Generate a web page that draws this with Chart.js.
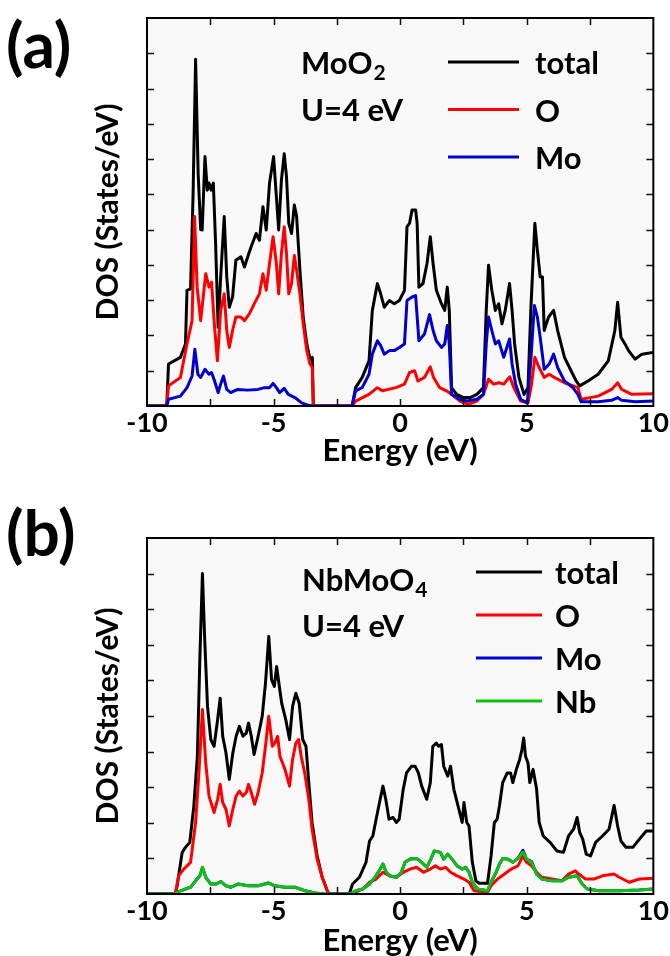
<!DOCTYPE html>
<html>
<head>
<meta charset="utf-8">
<script src="https://cdn.jsdelivr.net/npm/chart.js@4.4.1/dist/chart.umd.min.js"></script>
<style>
  html, body { margin: 0; padding: 0; background: #fff; }
  #wrap { position: relative; width: 670px; height: 956px; }
  canvas { position: absolute; left: 0; }
  #cA { top: 0; }
  #cB { top: 480px; }
</style>
</head>
<body>
<div id="wrap">
  <canvas id="cA" width="670" height="480"></canvas>
  <canvas id="cB" width="670" height="476"></canvas>
</div>
<script>
// energy range and ticks
const xMin = -10, xMax = 10;
const xStep = 2.5;

// panel (a): MoO2, [energy eV, DOS]
const aTotal = [[-10,0],[-9.22,0],[-9.15,1.19],[-8.68,1.38],[-8.48,1.76],[-8.42,3.28],[-8.28,3.32],[-8.18,6.0],[-8.08,9.83],[-7.98,6.6],[-7.88,5.0],[-7.82,4.99],[-7.71,7.07],[-7.62,6.12],[-7.55,6.32],[-7.47,6.12],[-7.38,6.32],[-7.29,4.6],[-7.19,2.23],[-7.09,3.66],[-6.95,5.37],[-6.85,3.66],[-6.75,2.8],[-6.62,3.09],[-6.49,4.13],[-6.29,4.23],[-6.15,3.94],[-6.02,4.23],[-5.89,4.51],[-5.69,4.89],[-5.56,4.7],[-5.42,5.65],[-5.29,4.99],[-5.16,6.32],[-5.0,7.07],[-4.89,5.94],[-4.8,4.99],[-4.69,6.41],[-4.58,7.15],[-4.49,6.5],[-4.4,5.18],[-4.29,4.89],[-4.18,5.7],[-4.09,5.37],[-3.96,3.85],[-3.83,2.52],[-3.69,1.76],[-3.56,1.33],[-3.47,1.38],[-3.43,0],[-1.9,0],[-1.76,0.52],[-1.5,0.81],[-1.23,1.28],[-1.1,2.71],[-0.9,3.47],[-0.77,3.18],[-0.63,2.8],[-0.43,2.99],[-0.23,2.9],[-0.03,2.99],[0.17,3.28],[0.27,5.08],[0.37,5.18],[0.47,5.56],[0.61,5.56],[0.67,5.18],[0.74,3.37],[0.9,3.47],[1.06,4.04],[1.19,4.8],[1.3,4.04],[1.43,3.28],[1.63,2.9],[1.76,2.71],[1.86,3.37],[1.94,2.71],[2.03,0.52],[2.23,0.33],[2.5,0.24],[2.76,0.24],[3.03,0.33],[3.29,0.52],[3.4,2.71],[3.49,3.99],[3.62,3.28],[3.76,2.71],[3.89,2.9],[4.02,2.33],[4.15,2.71],[4.32,3.47],[4.42,2.71],[4.52,1.76],[4.69,0.81],[4.89,0.33],[5.05,0.52],[5.16,2.71],[5.32,5.18],[5.42,4.42],[5.53,3.66],[5.62,3.66],[5.69,2.14],[5.86,2.52],[6.06,2.71],[6.22,2.14],[6.49,1.38],[6.75,1.0],[6.95,0.71],[7.09,0.57],[7.42,0.71],[7.82,0.9],[8.22,1.28],[8.48,2.14],[8.59,2.94],[8.72,1.95],[8.88,1.76],[9.02,1.57],[9.28,1.33],[9.55,1.47],[10,1.52]];
const aO = [[-10,0],[-9.22,0],[-9.15,0.57],[-8.68,0.81],[-8.42,1.76],[-8.22,2.42],[-8.12,5.37],[-8.02,3.37],[-7.88,2.42],[-7.68,3.75],[-7.55,3.37],[-7.45,3.51],[-7.33,2.23],[-7.22,1.28],[-7.09,2.71],[-6.95,3.18],[-6.85,2.14],[-6.75,1.66],[-6.62,2.14],[-6.49,2.52],[-6.29,2.52],[-6.15,2.42],[-5.96,2.61],[-5.76,2.9],[-5.56,3.18],[-5.42,3.75],[-5.29,3.28],[-5.16,4.04],[-5.02,4.8],[-4.89,4.04],[-4.8,3.18],[-4.69,4.32],[-4.58,5.08],[-4.49,4.32],[-4.4,3.18],[-4.29,3.47],[-4.18,4.27],[-4.09,3.85],[-3.96,3.18],[-3.83,2.33],[-3.69,1.57],[-3.56,1.19],[-3.47,1.09],[-3.43,0],[-1.9,0],[-1.76,0.14],[-1.23,0.33],[-0.9,0.52],[-0.7,0.43],[-0.17,0.52],[0.17,0.62],[0.37,0.95],[0.57,1.0],[0.7,0.71],[0.96,0.81],[1.19,1.11],[1.32,0.81],[1.56,0.52],[1.83,0.43],[2.03,0.33],[2.36,0.14],[2.69,0.05],[3.03,0.14],[3.29,0.33],[3.49,0.76],[3.69,0.62],[3.89,0.66],[4.09,0.62],[4.33,0.83],[4.49,0.52],[4.76,0.14],[5.05,0.09],[5.19,0.62],[5.32,1.38],[5.49,1.09],[5.69,0.81],[5.89,0.9],[6.09,0.81],[6.49,0.66],[7.02,0.52],[7.15,0.19],[7.82,0.28],[8.35,0.47],[8.59,0.66],[8.75,0.47],[9.15,0.33],[10,0.35]];
const aMo = [[-10,0],[-9.22,0],[-9.15,0.19],[-8.68,0.28],[-8.42,0.52],[-8.22,0.85],[-8.11,1.61],[-7.99,0.9],[-7.88,0.81],[-7.71,1.04],[-7.55,0.9],[-7.45,0.95],[-7.33,0.71],[-7.19,0.38],[-7.09,0.62],[-6.98,0.85],[-6.85,0.47],[-6.69,0.38],[-6.42,0.47],[-6.02,0.45],[-5.62,0.47],[-5.36,0.52],[-5.16,0.52],[-5.02,0.64],[-4.89,0.52],[-4.76,0.38],[-4.58,0.5],[-4.42,0.33],[-4.16,0.24],[-3.89,0.09],[-3.63,0.02],[-3.43,0],[-1.9,0],[-1.76,0.43],[-1.5,0.52],[-1.23,0.9],[-1.1,1.47],[-0.9,1.85],[-0.77,1.71],[-0.63,1.47],[-0.43,1.57],[-0.23,1.57],[-0.03,1.66],[0.17,1.76],[0.27,2.99],[0.47,3.09],[0.61,3.13],[0.74,1.85],[0.96,2.04],[1.16,2.59],[1.3,2.14],[1.43,1.85],[1.63,1.66],[1.76,1.76],[1.86,2.28],[1.94,1.76],[2.03,0.33],[2.36,0.19],[2.63,0.14],[3.03,0.19],[3.29,0.33],[3.4,1.76],[3.49,2.52],[3.62,2.14],[3.76,1.76],[3.89,1.85],[4.09,1.38],[4.32,1.9],[4.42,1.19],[4.56,0.62],[4.76,0.19],[5.02,0.09],[5.16,1.28],[5.3,2.85],[5.42,2.52],[5.53,1.95],[5.69,1.04],[5.89,1.19],[6.06,1.47],[6.22,1.09],[6.49,0.71],[6.82,0.52],[7.02,0.33],[7.15,0.12],[7.82,0.12],[8.35,0.16],[8.59,0.24],[8.75,0.16],[9.28,0.12],[10,0.14]];

// panel (b): NbMoO4
const bTotal = [[-10,0],[-8.88,0],[-8.81,0.23],[-8.61,1.17],[-8.48,1.31],[-8.31,1.45],[-8.15,2.47],[-8.01,3.87],[-7.91,6.67],[-7.81,9.0],[-7.72,7.14],[-7.61,5.27],[-7.48,4.34],[-7.35,4.15],[-7.21,4.9],[-7.11,5.5],[-7.01,4.43],[-6.88,3.96],[-6.75,3.22],[-6.61,3.96],[-6.48,4.43],[-6.35,4.71],[-6.21,4.43],[-6.08,4.52],[-5.99,4.8],[-5.88,4.43],[-5.77,3.92],[-5.61,4.43],[-5.45,4.99],[-5.32,5.92],[-5.19,7.23],[-5.08,6.02],[-4.97,5.83],[-4.88,6.39],[-4.79,5.92],[-4.68,5.36],[-4.52,4.9],[-4.37,4.34],[-4.25,5.27],[-4.12,5.64],[-3.99,5.36],[-3.85,4.34],[-3.72,4.15],[-3.61,3.13],[-3.48,2.01],[-3.28,1.07],[-3.08,0.47],[-2.88,0.09],[-2.81,0],[-2.01,0],[-1.88,0.28],[-1.61,0.47],[-1.35,0.89],[-1.21,1.49],[-1.08,1.63],[-0.95,2.1],[-0.79,2.66],[-0.68,3.03],[-0.57,2.66],[-0.44,2.1],[-0.28,2.15],[-0.15,2.01],[-0.04,2.1],[0.12,2.94],[0.25,3.4],[0.45,3.59],[0.59,3.59],[0.72,3.4],[0.85,3.03],[1.05,2.66],[1.19,3.13],[1.29,4.15],[1.43,4.24],[1.52,4.15],[1.63,4.2],[1.72,3.59],[1.88,3.31],[1.99,3.59],[2.12,2.94],[2.32,2.38],[2.45,2.01],[2.52,2.57],[2.63,2.01],[2.72,1.91],[2.85,0.89],[2.99,0.37],[3.12,0.3],[3.45,0.3],[3.59,1.07],[3.72,2.01],[3.83,2.1],[3.92,2.47],[4.05,3.13],[4.23,3.4],[4.36,3.4],[4.45,3.13],[4.59,3.5],[4.72,3.78],[4.81,4.06],[4.88,4.38],[4.95,3.87],[5.05,3.68],[5.12,3.13],[5.25,3.5],[5.39,2.94],[5.49,2.01],[5.65,1.63],[5.92,1.45],[6.19,1.21],[6.45,1.17],[6.65,1.63],[6.85,1.82],[6.99,2.15],[7.09,1.73],[7.21,1.54],[7.35,1.12],[7.52,1.07],[7.72,1.45],[7.99,1.63],[8.25,1.82],[8.45,2.49],[8.59,1.91],[8.72,1.49],[8.92,1.31],[9.19,1.31],[9.45,1.54],[9.72,1.77],[10,1.77]];
const bO = [[-10,0],[-8.88,0],[-8.75,0.51],[-8.55,0.7],[-8.28,0.89],[-8.08,2.01],[-7.95,3.4],[-7.81,5.18],[-7.68,3.68],[-7.55,2.75],[-7.35,2.29],[-7.21,2.66],[-7.11,3.08],[-7.01,2.57],[-6.88,2.38],[-6.75,1.91],[-6.61,2.38],[-6.48,2.75],[-6.35,2.89],[-6.21,2.75],[-6.08,2.85],[-5.99,3.08],[-5.88,2.85],[-5.75,2.52],[-5.61,2.85],[-5.45,3.4],[-5.32,4.15],[-5.19,4.99],[-5.05,4.15],[-4.95,4.24],[-4.84,4.43],[-4.75,3.87],[-4.55,3.5],[-4.37,3.03],[-4.25,3.78],[-4.12,4.24],[-4.01,4.34],[-3.91,3.87],[-3.77,3.4],[-3.61,2.66],[-3.48,1.82],[-3.28,0.98],[-3.08,0.47],[-2.88,0.09],[-2.81,0],[-2.01,0],[-1.75,0.05],[-1.48,0.14],[-1.21,0.33],[-0.95,0.42],[-0.68,0.61],[-0.41,0.51],[-0.15,0.47],[0.12,0.61],[0.39,0.7],[0.65,0.75],[0.92,0.61],[1.19,0.7],[1.39,0.79],[1.59,0.7],[1.79,0.75],[1.99,0.61],[2.25,0.51],[2.52,0.42],[2.72,0.33],[2.92,0.09],[3.45,0.05],[3.59,0.23],[3.85,0.42],[4.12,0.56],[4.39,0.7],[4.65,0.79],[4.85,1.07],[4.99,0.89],[5.19,0.79],[5.39,0.61],[5.59,0.47],[5.99,0.42],[6.39,0.37],[6.65,0.56],[6.92,0.65],[7.05,0.56],[7.32,0.42],[7.65,0.42],[7.99,0.51],[8.45,0.56],[8.65,0.47],[9.05,0.33],[9.45,0.42],[10,0.44]];
const bMo = [[-10,0],[-8.95,0],[-8.68,0.09],[-8.28,0.19],[-8.08,0.37],[-7.91,0.51],[-7.81,0.74],[-7.68,0.47],[-7.48,0.28],[-7.28,0.28],[-7.08,0.35],[-6.88,0.23],[-6.68,0.19],[-6.41,0.28],[-6.01,0.23],[-5.61,0.23],[-5.21,0.31],[-4.95,0.23],[-4.55,0.19],[-4.15,0.19],[-3.75,0.09],[-3.35,0.03],[-3.0,0],[-2.01,0],[-1.75,0.09],[-1.48,0.14],[-1.21,0.28],[-0.95,0.51],[-0.79,0.7],[-0.68,0.84],[-0.55,0.61],[-0.41,0.51],[-0.15,0.47],[0.05,0.61],[0.19,0.89],[0.39,0.98],[0.65,1.0],[0.85,0.89],[1.05,0.75],[1.21,0.98],[1.35,1.21],[1.59,1.17],[1.72,0.98],[1.88,1.12],[2.05,0.98],[2.25,0.79],[2.45,0.7],[2.59,0.75],[2.72,0.61],[2.85,0.33],[3.05,0.14],[3.45,0.09],[3.59,0.33],[3.79,0.61],[3.92,0.84],[4.05,1.0],[4.25,0.98],[4.45,0.89],[4.65,1.0],[4.85,1.23],[4.99,0.98],[5.19,0.91],[5.39,0.56],[5.59,0.42],[5.99,0.37],[6.39,0.37],[6.65,0.47],[6.99,0.51],[7.19,0.28],[7.39,0.14],[7.85,0.09],[8.65,0.09],[9.45,0.11],[10,0.14]];
const bNb = [[-10,0],[-8.95,0],[-8.68,0.09],[-8.28,0.19],[-8.08,0.37],[-7.91,0.51],[-7.81,0.75],[-7.68,0.47],[-7.48,0.28],[-7.28,0.28],[-7.08,0.35],[-6.88,0.23],[-6.68,0.19],[-6.41,0.28],[-6.01,0.23],[-5.61,0.23],[-5.21,0.31],[-4.95,0.23],[-4.55,0.19],[-4.15,0.19],[-3.75,0.09],[-3.35,0.03],[-3.0,0],[-2.01,0],[-1.75,0.09],[-1.48,0.14],[-1.21,0.28],[-0.95,0.51],[-0.79,0.7],[-0.68,0.84],[-0.55,0.61],[-0.41,0.51],[-0.15,0.47],[0.05,0.61],[0.19,0.89],[0.39,0.98],[0.65,1.0],[0.85,0.89],[1.05,0.75],[1.21,0.98],[1.35,1.21],[1.59,1.17],[1.72,0.98],[1.88,1.12],[2.05,0.98],[2.25,0.79],[2.45,0.7],[2.59,0.75],[2.72,0.61],[2.85,0.33],[3.05,0.14],[3.45,0.09],[3.59,0.33],[3.79,0.61],[3.92,0.84],[4.05,1.0],[4.25,0.98],[4.45,0.89],[4.65,1.0],[4.85,1.18],[4.99,0.98],[5.19,0.89],[5.39,0.56],[5.59,0.42],[5.99,0.37],[6.39,0.37],[6.65,0.47],[6.99,0.51],[7.19,0.28],[7.39,0.14],[7.85,0.09],[8.65,0.09],[9.45,0.11],[10,0.14]];

const FONT = "Lato";
const black = "#000000", red = "#ff0000", blue = "#0000cc", green = "#10c010";

function series(label, pts, color, order) {
  return {
    label: label,
    data: pts.map(p => ({ x: p[0], y: p[1] })),
    borderColor: color,
    borderWidth: 3,
    pointRadius: 0,
    tension: 0,
    borderJoinStyle: "round",
    fill: false,
    order: order
  };
}

// frame, inward ticks, labels and legend drawn on the canvas
const decorPlugin = {
  id: "decor",
  beforeDraw(chart) {
    const a = chart.chartArea, ctx = chart.ctx;
    ctx.save();
    ctx.fillStyle = "#f8f8f8";
    ctx.fillRect(a.left, a.top, a.right - a.left, a.bottom - a.top);
    ctx.restore();
  },
  afterDraw(chart, args, opts) {
    const a = chart.chartArea, ctx = chart.ctx;
    const xs = chart.scales.x, ys = chart.scales.y;
    ctx.save();
    ctx.strokeStyle = "#111";
    ctx.lineWidth = 1.5;
    ctx.beginPath();
    xs.ticks.forEach(t => {
      if (t.value <= xMin || t.value >= xMax) return;
      const px = Math.round(xs.getPixelForValue(t.value)) + 0.5;
      ctx.moveTo(px, a.bottom); ctx.lineTo(px, a.bottom - 7);
      ctx.moveTo(px, a.top); ctx.lineTo(px, a.top + 7);
    });
    ys.ticks.forEach(t => {
      if (t.value <= ys.min || t.value >= ys.max) return;
      const py = Math.round(ys.getPixelForValue(t.value)) + 0.5;
      ctx.moveTo(a.left, py); ctx.lineTo(a.left + 7, py);
      ctx.moveTo(a.right, py); ctx.lineTo(a.right - 7, py);
    });
    ctx.stroke();
    ctx.lineWidth = 2;
    ctx.strokeStyle = "#000";
    ctx.strokeRect(a.left, a.top, a.right - a.left, a.bottom - a.top);

    ctx.fillStyle = "#000";
    ctx.textBaseline = "middle";
    ctx.font = "bold 64px " + FONT;
    ctx.fillText(opts.tag, 6, opts.tagY);

    // compound name with subscript
    ctx.font = "bold 31px " + FONT;
    ctx.fillText(opts.name, opts.textX, opts.nameY);
    const w = ctx.measureText(opts.name).width;
    ctx.font = "bold 21px " + FONT;
    ctx.fillText(opts.sub, opts.textX + w + 1, opts.nameY + 9);
    ctx.font = "bold 31px " + FONT;
    ctx.fillText("U=4 eV", opts.textX, opts.uY);

    chart.data.datasets.forEach((ds, i) => {
      const y = opts.legY + i * opts.legGap;
      ctx.strokeStyle = ds.borderColor;
      ctx.lineWidth = 3;
      ctx.beginPath();
      ctx.moveTo(opts.legX0, y); ctx.lineTo(opts.legX1, y);
      ctx.stroke();
      ctx.fillStyle = "#000";
      ctx.fillText(ds.label, opts.legTextX, y + 2);
    });
    ctx.restore();
  }
};

function makePanel(id, datasets, yMax, padTop, xAxisH, xTitlePad, decor) {
  return new Chart(document.getElementById(id), {
    type: "line",
    data: { datasets: datasets },
    plugins: [decorPlugin],
    options: {
      responsive: false,
      animation: false,
      events: [],
      layout: { padding: { top: padTop, right: 16, left: 0, bottom: 0 } },
      plugins: { legend: { display: false }, tooltip: { enabled: false }, decor: decor },
      scales: {
        x: {
          type: "linear",
          min: xMin, max: xMax,
          grid: { display: false, drawTicks: false },
          border: { display: false },
          ticks: {
            stepSize: xStep,
            padding: 1,
            color: "#000",
            font: { family: FONT, weight: "bold", size: 27 },
            callback: v => (v % 5 === 0 ? String(v) : "")
          },
          title: {
            display: true,
            text: "Energy (eV)",
            color: "#000",
            font: { family: FONT, weight: "bold", size: 31, lineHeight: 1 },
            padding: { top: 0, bottom: xTitlePad }
          },
          afterFit: s => { s.height = xAxisH; }
        },
        y: {
          min: 0, max: yMax,
          grid: { display: false, drawTicks: false },
          border: { display: false },
          ticks: { stepSize: 1, display: false },
          title: {
            display: true,
            text: "DOS (States/eV)",
            color: "#000",
            font: { family: FONT, weight: "bold", size: 30, lineHeight: 1 },
            padding: { top: 93, bottom: 0 }
          },
          afterFit: s => { s.width = 147; }
        }
      }
    }
  });
}

makePanel("cA", [
  series("total", aTotal, black, 4),
  series("O", aO, red, 3),
  series("Mo", aMo, blue, 2)
], 11, 18, 74, 14, {
  tag: "(a)", tagY: 47,
  name: "MoO", sub: "2", textX: 301, nameY: 64, uY: 111,
  legX0: 448, legX1: 519, legTextX: 535, legY: 62, legGap: 47.5
});

makePanel("cB", [
  series("total", bTotal, black, 4),
  series("O", bO, red, 3),
  series("Mo", bMo, blue, 2),
  series("Nb", bNb, green, 1)
], 10, 58, 62, 0, {
  tag: "(b)", tagY: 55,
  name: "NbMoO", sub: "4", textX: 302, nameY: 101, uY: 147,
  legX0: 476, legX1: 542, legTextX: 555, legY: 92, legGap: 43
});
</script>
</body>
</html>
